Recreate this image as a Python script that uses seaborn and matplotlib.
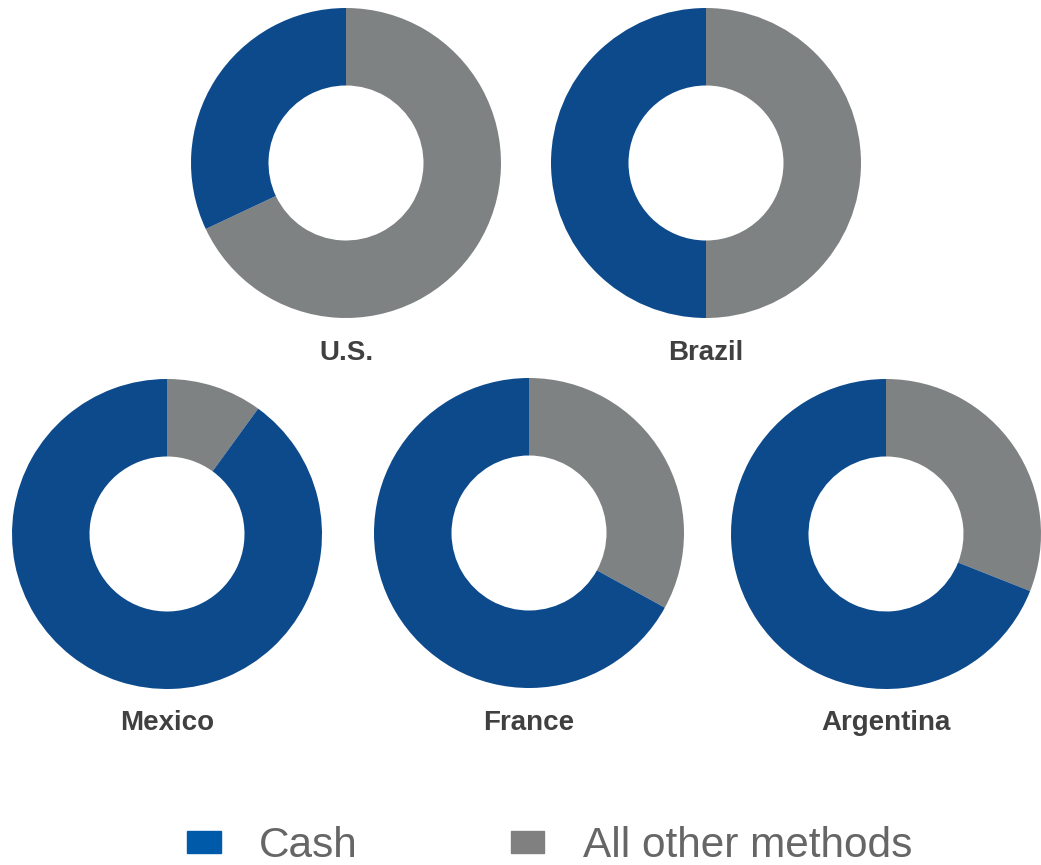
import matplotlib
matplotlib.use("Agg")
import matplotlib.pyplot as plt
import matplotlib.patches as mpatches
import seaborn as sns

# data
countries = ["U.S.", "Brazil", "Mexico", "France", "Argentina"]
cash = [32, 50, 90, 67, 69]
other = [68, 50, 10, 33, 31]
legend_labels = ["Cash", "All other methods"]

sns.set_theme(style="white")
plt.rcParams["font.family"] = ["Liberation Sans", "DejaVu Sans"]

blue = "#0c4a8c"
grey = "#7f8283"

W, H = 1041, 865
fig = plt.figure(figsize=(W / 100, H / 100), dpi=100)

# pixel centres of each donut and its label (top row, bottom row)
centres = [(346, 163), (706, 163), (167, 534), (529, 533), (886, 534)]
label_y = [353, 353, 723, 723, 723]
r = 155

for i, name in enumerate(countries):
    cx, cy = centres[i]
    ax = fig.add_axes([(cx - r) / W, 1 - (cy + r) / H, 2 * r / W, 2 * r / H])
    ax.pie(
        [other[i], cash[i]],
        colors=[grey, blue],
        startangle=90,
        counterclock=False,
        radius=1,
        wedgeprops=dict(width=0.5, edgecolor="none"),
    )
    ax.set_xlim(-1, 1)
    ax.set_ylim(-1, 1)
    ax.set_aspect("equal")
    ax.axis("off")
    fig.text(cx / W, 1 - label_y[i] / H, name, ha="center", va="center",
             fontsize=20, fontweight="bold", color="#404040")

# legend
handles = [
    mpatches.Patch(color="#005aaa", label=legend_labels[0]),
    mpatches.Patch(color="#808080", label=legend_labels[1]),
]
fig.legend(
    handles=handles,
    loc="center",
    bbox_to_anchor=(0.528, 1 - 846 / H),
    ncol=2,
    frameon=False,
    fontsize=30.5,
    labelcolor="#666666",
    handlelength=0.8,
    handleheight=0.42,
    handletextpad=0.9,
    columnspacing=3.6,
)

fig.savefig("out.png", dpi=100)
